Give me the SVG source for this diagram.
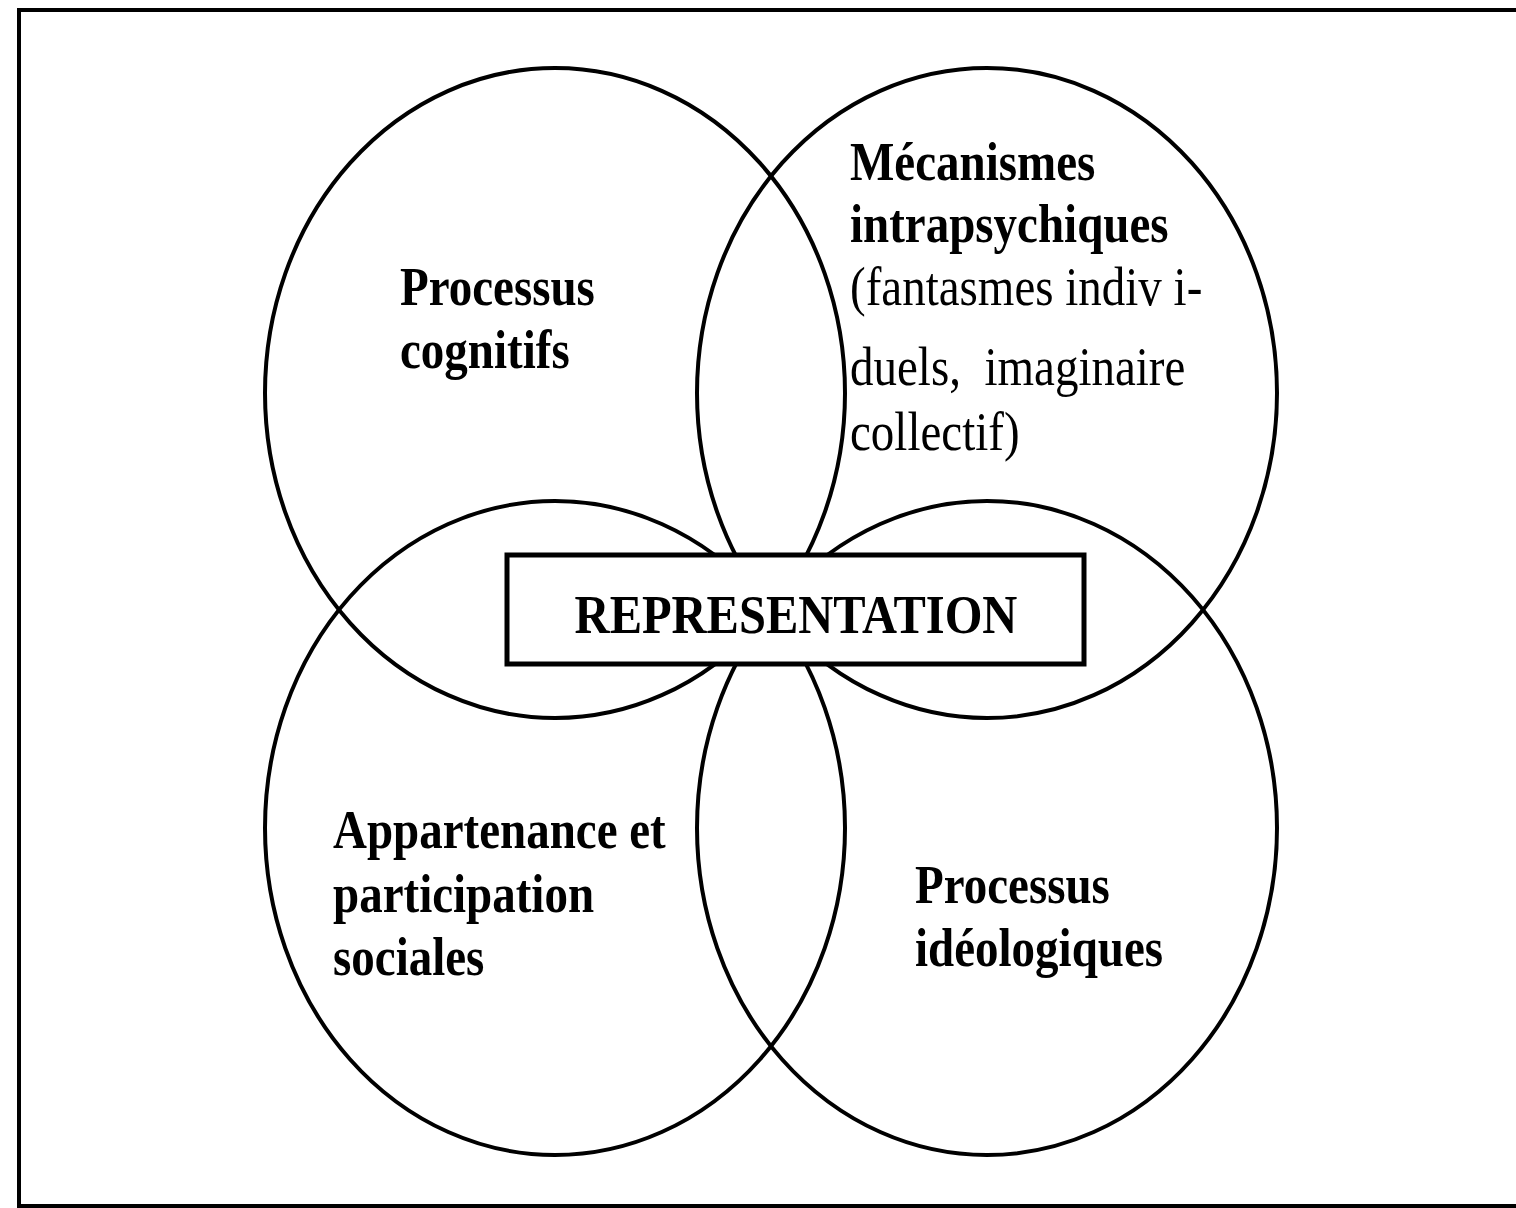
<svg xmlns="http://www.w3.org/2000/svg" width="1516" height="1208" viewBox="0 0 1516 1208">
<style>
.frame{fill:none;stroke:#000;stroke-width:4}
.circ{fill:none;stroke:#000;stroke-width:4}
.box{fill:#fff;stroke:#000;stroke-width:5}
.b{font-family:"Liberation Serif","Times New Roman",serif;font-weight:bold;font-size:47px;fill:#000}
.r{font-family:"Liberation Serif","Times New Roman",serif;font-weight:normal;font-size:47px;fill:#000}
</style>
<rect width="1516" height="1208" fill="#fff"/>
<rect class="frame" x="19" y="10" width="1520" height="1196"/>
<g id="connectors"></g>
<g id="node-cognitifs">
<ellipse class="circ" cx="555" cy="393" rx="290" ry="325"/>
<text class="b" transform="translate(400,305) scale(1,1.18)">Processus</text>
<text class="b" transform="translate(400,368) scale(1,1.18)">cognitifs</text>
</g>
<g id="node-intrapsychiques">
<ellipse class="circ" cx="987" cy="393" rx="290" ry="325"/>
<text class="b" transform="translate(850,180) scale(1,1.18)">Mécanismes</text>
<text class="b" transform="translate(850,242) scale(1,1.18)">intrapsychiques</text>
<text class="r" transform="translate(850,305) scale(1,1.18)">(fantasmes indiv i-</text>
<text class="r" transform="translate(850,385) scale(1,1.18)" xml:space="preserve">duels,  imaginaire</text>
<text class="r" transform="translate(850,450) scale(1,1.18)">collectif)</text>
</g>
<g id="node-sociales">
<ellipse class="circ" cx="555" cy="828" rx="290" ry="327"/>
<text class="b" transform="translate(333,848) scale(1,1.18)">Appartenance et</text>
<text class="b" transform="translate(333,912) scale(1,1.18)">participation</text>
<text class="b" transform="translate(333,975) scale(1,1.18)">sociales</text>
</g>
<g id="node-ideologiques">
<ellipse class="circ" cx="987" cy="828" rx="290" ry="327"/>
<text class="b" transform="translate(915,903) scale(1,1.18)">Processus</text>
<text class="b" transform="translate(915,966) scale(1,1.18)">idéologiques</text>
</g>
<g id="node-representation">
<rect class="box" x="507" y="555" width="577" height="109"/>
<text class="b" style="font-size:48.5px" transform="translate(796,633) scale(1,1.15)" text-anchor="middle">REPRESENTATION</text>
</g>
</svg>
